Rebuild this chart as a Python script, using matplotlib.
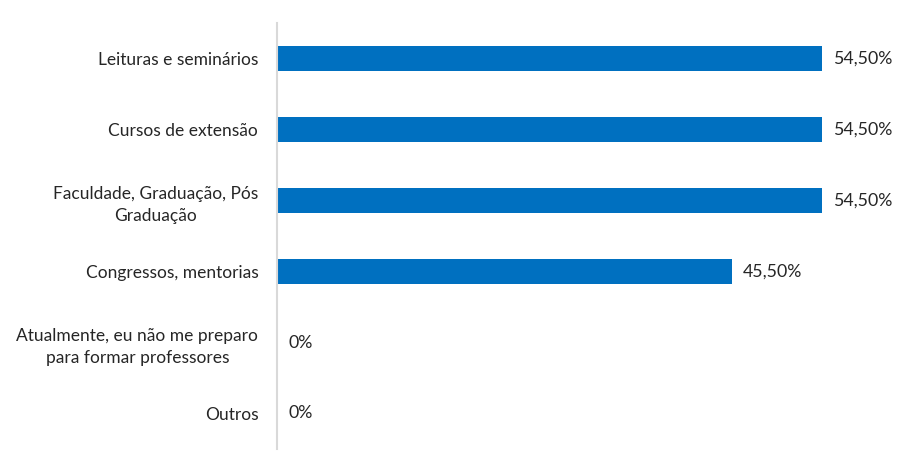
import matplotlib.pyplot as plt

# categories top to bottom as shown in the chart
categories = [
    "Leituras e seminários",
    "Cursos de extensão",
    "Faculdade, Graduação, Pós\nGraduação",
    "Congressos, mentorias",
    "Atualmente, eu não me preparo\npara formar professores",
    "Outros",
]
values = [54.5, 54.5, 54.5, 45.5, 0, 0]
value_labels = ["54,50%", "54,50%", "54,50%", "45,50%", "0%", "0%"]

plt.rcParams['font.family'] = ['Lato', 'DejaVu Sans']

fig = plt.figure(figsize=(9, 4.72), dpi=100)
ax = fig.add_axes([277 / 900, 1 - 449 / 472, 623 / 900, 426 / 472])

pos = list(range(len(categories)))
ax.barh(pos, values, height=0.35, color='#0070C0')
ax.set_ylim(len(categories) - 0.5, -0.5)
ax.set_xlim(0, 62.3)

for p, v, lab in zip(pos, values, value_labels):
    ax.annotate(lab, (v, p), xytext=(8, 0), textcoords='offset points',
                va='center', ha='left', fontsize=12.8, color='#262626')

ax.set_yticks(pos)
ax.set_yticklabels(categories, fontsize=12.5, color='#262626')
for t in ax.get_yticklabels():
    t.set_ha('right')
    t.set_multialignment('center')
    t.set_linespacing(1.45)
ax.tick_params(axis='y', length=0, pad=13.5)

ax.set_xticks([])
for s in ['top', 'right', 'bottom']:
    ax.spines[s].set_visible(False)
ax.spines['left'].set_color('#D9D9D9')
ax.spines['left'].set_linewidth(1.5)

fig.savefig('out.png', dpi=100)
